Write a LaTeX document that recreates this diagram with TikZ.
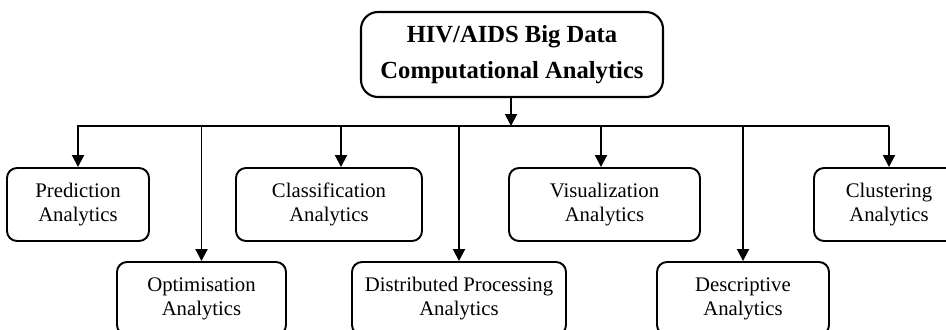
\documentclass[tikz,border=0pt]{standalone}
\usepackage{fontspec}
\setmainfont{Liberation Serif}
\usepackage{tikz}
\usetikzlibrary{arrows.meta, positioning}

\begin{document}
\begin{tikzpicture}[
        >={Triangle[length=2.4mm, width=2.4mm]},
        font=\fontsize{11.8pt}{13.6pt}\selectfont,
        root/.style={draw, line width=1.2pt, rounded corners=3.4mm, align=center,
                     minimum width=6.04cm, minimum height=1.7cm,
                     font=\fontsize{14pt}{20.5pt}\selectfont\bfseries},
        kind/.style={draw, line width=1.1pt, rounded corners=2mm, align=center,
                     minimum height=1.46cm, inner sep=2pt},
        a/.style={->, line width=1.1pt},
        bus/.style={line width=1.1pt},
      ]
        \useasboundingbox (0,0) rectangle (18.92,-6.58);
        \clip (0,0) rectangle (18.92,-6.58);
        \node[root] (hiv) at (10.24,-1.09) {HIV/AIDS Big Data\\Computational Analytics};
        % first row
        \node[kind, minimum width=2.84cm] (pred)  at (1.56,-4.09)  {Prediction\\Analytics};
        \node[kind, minimum width=3.72cm] (class) at (6.58,-4.09)  {Classification\\Analytics};
        \node[kind, minimum width=3.82cm] (vis)   at (12.09,-4.09) {Visualization\\Analytics};
        \node[kind, minimum width=3.0cm]  (clust) at (17.78,-4.09) {Clustering\\Analytics};
        % second row
        \node[kind, minimum width=3.38cm] (opt)   at (4.03,-5.97)  {Optimisation\\Analytics};
        \node[kind, minimum width=4.28cm] (dist)  at (9.18,-5.97)  {Distributed Processing\\Analytics};
        \node[kind, minimum width=3.44cm] (desc)  at (14.86,-5.97) {Descriptive\\Analytics};
        % bus
        \coordinate (bl) at (1.54,-2.52);
        \coordinate (br) at (17.78,-2.52);
        \draw[bus] (bl) -- (br);
        \draw[a] ([xshift=-0.02cm]hiv.south) -- ([xshift=-0.02cm]hiv.south |- bl);
        \draw[a] (pred.north |- bl) -- (pred.north);
        \draw[a] ([xshift=0.24cm]class.north |- bl) -- ([xshift=0.24cm]class.north);
        \draw[a] ([xshift=-0.07cm]vis.north |- bl) -- ([xshift=-0.07cm]vis.north);
        \draw[a] (clust.north |- bl) -- (clust.north);
        \draw[a] (opt.north |- bl) -- (opt.north);
        \draw[a] (dist.north |- bl) -- (dist.north);
        \draw[a] (desc.north |- bl) -- (desc.north);
      \end{tikzpicture}
\end{document}
